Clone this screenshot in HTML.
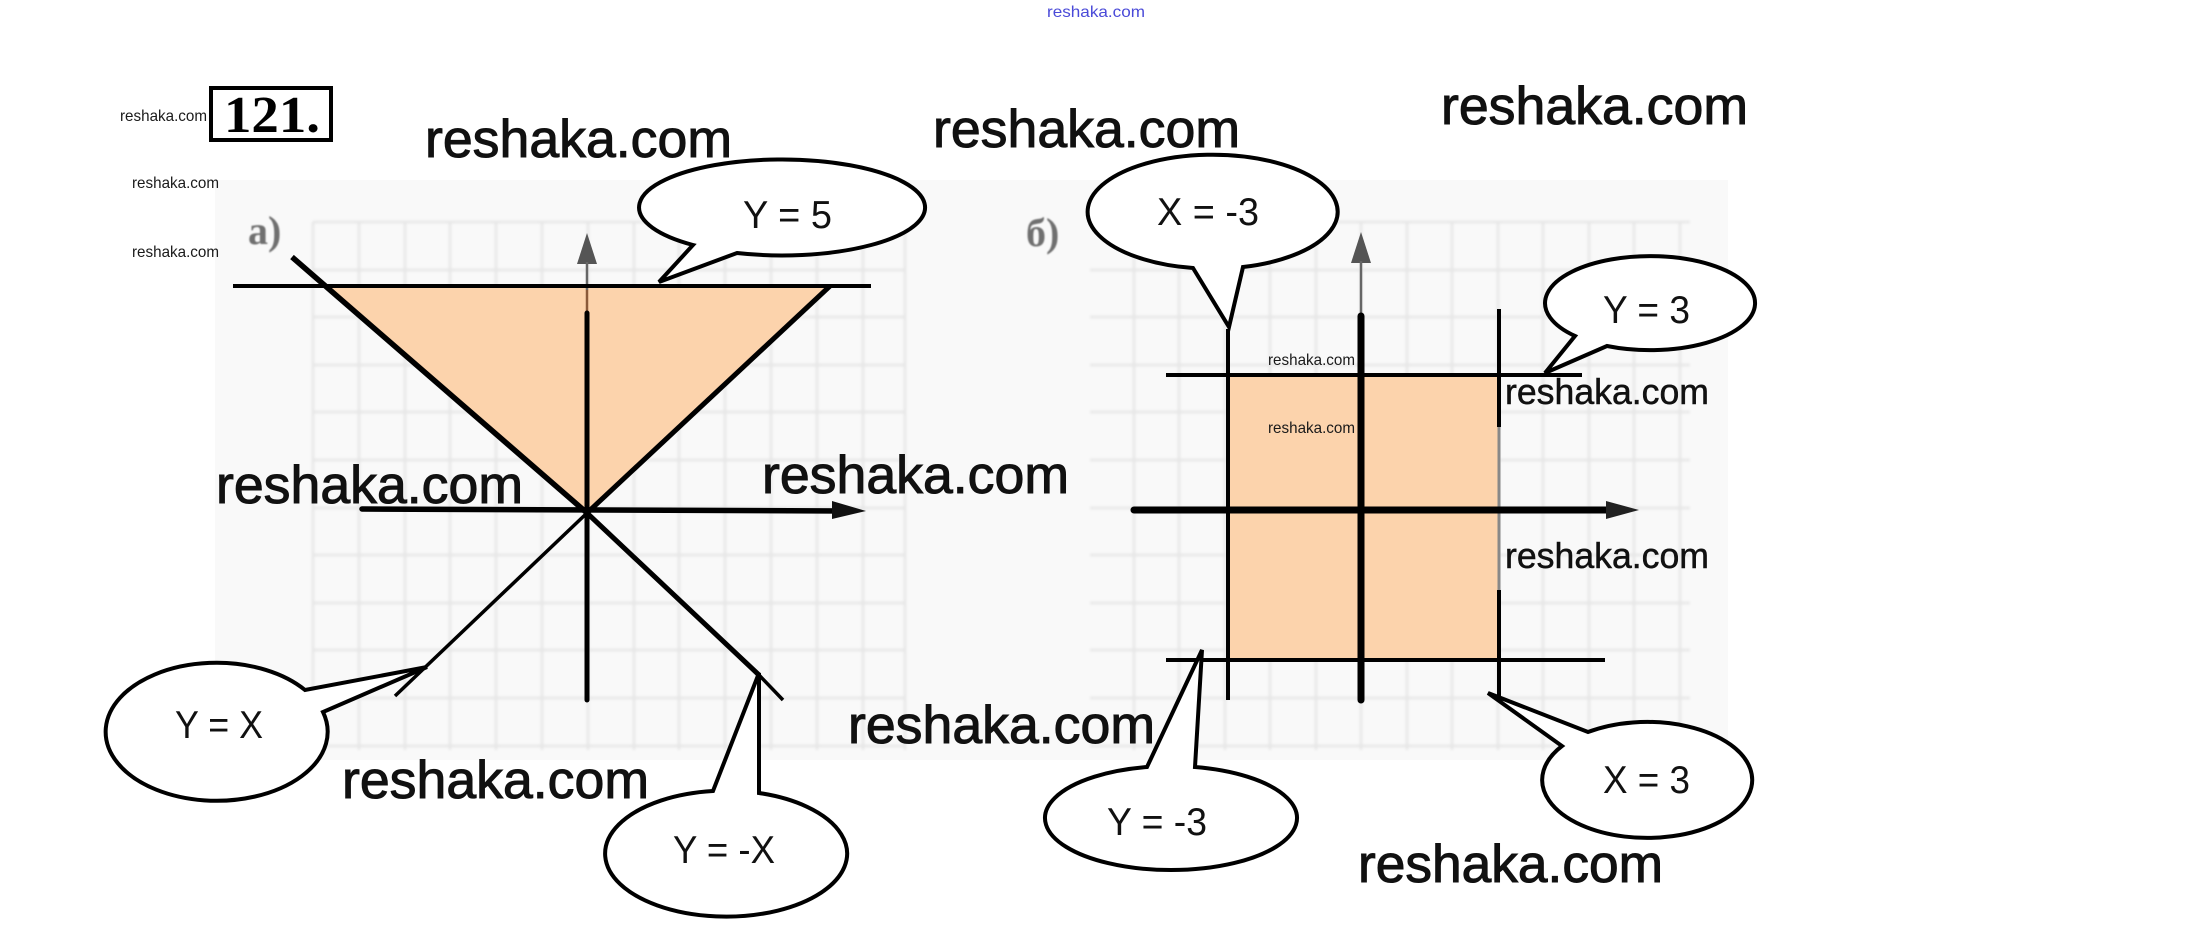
<!DOCTYPE html>
<html>
<head>
<meta charset="utf-8">
<style>
html,body{margin:0;padding:0;background:#fff;width:2190px;height:952px;overflow:hidden}
svg{display:block}
.sans{font-family:"Liberation Sans",sans-serif}
.serif{font-family:"Liberation Serif",serif;font-weight:bold}
</style>
</head>
<body>
<svg width="2190" height="952" viewBox="0 0 2190 952" xmlns="http://www.w3.org/2000/svg">
<defs>
<filter id="bl" x="-20%" y="-20%" width="140%" height="140%"><feGaussianBlur stdDeviation="0.9"/></filter>
<filter id="gb" x="-5%" y="-5%" width="110%" height="110%"><feGaussianBlur stdDeviation="1.2"/></filter>
</defs>
<!-- background panels -->
<rect x="215" y="180" width="1513" height="580" fill="#f9f9f9"/>
<!-- grids -->
<path filter="url(#gb)" fill="none" stroke="#e6e6e6" stroke-width="2.5" d="
M313,222 V750 M359,222 V750 M405,222 V750 M450,222 V750 M496,222 V750 M542,222 V750 M588,222 V750 M634,222 V750 M679,222 V750 M725,222 V750 M771,222 V750 M817,222 V750 M863,222 V750 M905,222 V750
M313,222 H905 M313,270 H905 M313,317 H905 M313,365 H905 M313,412 H905 M313,460 H905 M313,508 H905 M313,555 H905 M313,603 H905 M313,650 H905 M313,698 H905 M313,746 H905
M1134,222 V750 M1179,222 V750 M1225,222 V750 M1270,222 V750 M1316,222 V750 M1361,222 V750 M1407,222 V750 M1452,222 V750 M1498,222 V750 M1543,222 V750 M1589,222 V750 M1634,222 V750 M1680,222 V750
M1090,222 H1690 M1090,270 H1690 M1090,317 H1690 M1090,365 H1690 M1090,412 H1690 M1090,460 H1690 M1090,508 H1690 M1090,555 H1690 M1090,603 H1690 M1090,650 H1690 M1090,698 H1690 M1090,746 H1690"/>

<!-- LEFT GRAPH -->
<polygon points="327,286 830,286 587,513" fill="#fcd3ac"/>
<!-- y axis -->
<polygon points="587,233 577,264 597,264" fill="#555"/>
<line x1="587" y1="262" x2="587" y2="290" stroke="#666" stroke-width="2.5"/>
<line x1="587" y1="290" x2="587" y2="313" stroke="#8a5a3a" stroke-width="2.5"/>
<line x1="587" y1="313" x2="587" y2="700" stroke="#000" stroke-width="5" stroke-linecap="round"/>
<!-- y = 5 -->
<line x1="233" y1="286" x2="871" y2="286" stroke="#000" stroke-width="4"/>
<!-- diagonals -->
<line x1="292" y1="257" x2="587" y2="513" stroke="#000" stroke-width="5.5"/>
<line x1="587" y1="513" x2="759" y2="675" stroke="#000" stroke-width="5"/>
<line x1="759" y1="675" x2="783" y2="700" stroke="#000" stroke-width="3.5"/>
<line x1="830" y1="286" x2="587" y2="513" stroke="#000" stroke-width="5"/>
<line x1="587" y1="513" x2="395" y2="696" stroke="#000" stroke-width="3.5"/>
<!-- x axis -->
<line x1="362" y1="509" x2="845" y2="511" stroke="#000" stroke-width="5.5" stroke-linecap="round"/>
<polygon points="832,501 866,511 832,519" fill="#111"/>
<text class="serif" x="248" y="244" font-size="40" fill="#6f6f6f" filter="url(#bl)">a)</text>

<!-- RIGHT GRAPH -->
<rect x="1228" y="375" width="271" height="285" fill="#fcd3ac"/>
<polygon points="1361,232 1351,263 1371,263" fill="#555"/>
<line x1="1361" y1="261" x2="1361" y2="316" stroke="#666" stroke-width="2.5"/>
<line x1="1361" y1="316" x2="1361" y2="700" stroke="#000" stroke-width="7" stroke-linecap="round"/>
<line x1="1228" y1="329" x2="1228" y2="700" stroke="#000" stroke-width="4"/>
<line x1="1499" y1="309" x2="1499" y2="427" stroke="#000" stroke-width="4"/>
<line x1="1499" y1="427" x2="1499" y2="590" stroke="#888" stroke-width="3"/>
<line x1="1499" y1="590" x2="1499" y2="698" stroke="#000" stroke-width="4"/>
<line x1="1166" y1="375" x2="1582" y2="375" stroke="#000" stroke-width="4"/>
<line x1="1166" y1="660" x2="1605" y2="660" stroke="#000" stroke-width="4"/>
<line x1="1134" y1="510" x2="1615" y2="510" stroke="#000" stroke-width="7" stroke-linecap="round"/>
<polygon points="1606,501 1639,510 1606,519" fill="#222"/>
<text class="serif" x="1026" y="246" font-size="40" fill="#6f6f6f" filter="url(#bl)">б)</text>

<!-- CALLOUTS -->
<g fill="#fff" stroke="#000" stroke-width="4" stroke-linejoin="miter">
<path d="M693,245 A143,48 0 1 1 737,253 L659,282 Z"/>
<path d="M305,690 A111,69 0 1 0 323,712 L427,667 Z"/>
<path d="M713,791 A121,63 0 1 0 759,793 L759,673 Z"/>
<path d="M1193,268 A125,57 0 1 1 1243,267 L1229,327 Z"/>
<path d="M1575,336 A105,47 0 1 1 1607,346 L1545,373 Z"/>
<path d="M1147,767 A126,52 0 1 0 1195,767 L1202,650 Z"/>
<path d="M1562,746 A105,58 0 1 0 1588,732 L1488,693 Z"/>
</g>
<g class="sans" font-size="39" fill="#111">
<text x="743" y="228" textLength="89" lengthAdjust="spacingAndGlyphs">Y = 5</text>
<text x="175" y="738" textLength="88" lengthAdjust="spacingAndGlyphs">Y = X</text>
<text x="673" y="863" textLength="102" lengthAdjust="spacingAndGlyphs">Y = -X</text>
<text x="1157" y="225" textLength="102" lengthAdjust="spacingAndGlyphs">X = -3</text>
<text x="1603" y="323" textLength="87" lengthAdjust="spacingAndGlyphs">Y = 3</text>
<text x="1107" y="835" textLength="100" lengthAdjust="spacingAndGlyphs">Y = -3</text>
<text x="1603" y="793" textLength="87" lengthAdjust="spacingAndGlyphs">X = 3</text>
</g>

<!-- HEADER -->
<rect x="211" y="88" width="120" height="52" fill="#fff" stroke="#000" stroke-width="4"/>
<text class="serif" x="224" y="132" font-size="52" fill="#000" textLength="96" lengthAdjust="spacingAndGlyphs">121.</text>
<text class="sans" x="1047" y="17" font-size="16" fill="#4a4ad8" textLength="98" lengthAdjust="spacingAndGlyphs">reshaka.com</text>

<!-- small watermarks -->
<g class="sans" font-size="16" fill="#1a1a1a">
<text x="120" y="121" textLength="87" lengthAdjust="spacingAndGlyphs">reshaka.com</text>
<text x="132" y="188" textLength="87" lengthAdjust="spacingAndGlyphs">reshaka.com</text>
<text x="132" y="257" textLength="87" lengthAdjust="spacingAndGlyphs">reshaka.com</text>
<text x="1268" y="365" textLength="87" lengthAdjust="spacingAndGlyphs">reshaka.com</text>
<text x="1268" y="433" textLength="87" lengthAdjust="spacingAndGlyphs">reshaka.com</text>
</g>
<!-- medium watermarks -->
<g class="sans" font-size="36" fill="#111" stroke="#111" stroke-width="0.5">
<text x="1505" y="404" textLength="204" lengthAdjust="spacingAndGlyphs">reshaka.com</text>
<text x="1505" y="568" textLength="204" lengthAdjust="spacingAndGlyphs">reshaka.com</text>
</g>
<!-- big watermarks -->
<g class="sans" font-size="53" fill="#111" stroke="#111" stroke-width="1">
<text x="425" y="157" textLength="307" lengthAdjust="spacingAndGlyphs">reshaka.com</text>
<text x="933" y="147" textLength="307" lengthAdjust="spacingAndGlyphs">reshaka.com</text>
<text x="1441" y="124" textLength="307" lengthAdjust="spacingAndGlyphs">reshaka.com</text>
<text x="216" y="503" textLength="307" lengthAdjust="spacingAndGlyphs">reshaka.com</text>
<text x="762" y="493" textLength="307" lengthAdjust="spacingAndGlyphs">reshaka.com</text>
<text x="848" y="743" textLength="307" lengthAdjust="spacingAndGlyphs">reshaka.com</text>
<text x="342" y="798" textLength="307" lengthAdjust="spacingAndGlyphs">reshaka.com</text>
<text x="1358" y="882" textLength="305" lengthAdjust="spacingAndGlyphs">reshaka.com</text>
</g>
</svg>
</body>
</html>
